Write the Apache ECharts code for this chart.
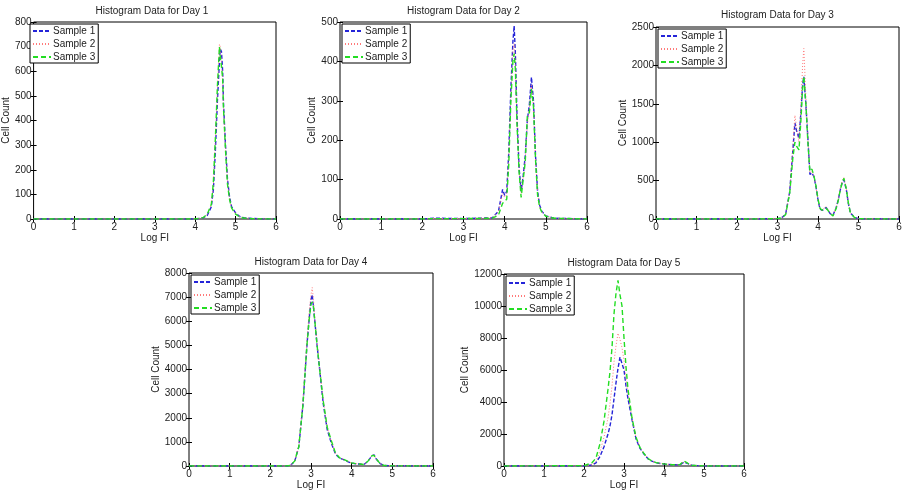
<!DOCTYPE html>
<html>
<head>
<meta charset="utf-8">
<title>Histogram Data</title>
<script src="https://cdn.jsdelivr.net/npm/echarts@6/dist/echarts.min.js"></script>
<style>
  html, body { margin: 0; padding: 0; background: #fff; }
  #chart { width: 913px; height: 494px; }
</style>
</head>
<body>
<div id="chart"></div>
<script>
const sampleNames = ['Sample 1', 'Sample 2', 'Sample 3']
const xTicks = [0, 1, 2, 3, 4, 5, 6]

// Day 1
const xDay1 = [0, 4.0, 4.2, 4.3, 4.4, 4.45, 4.5, 4.55, 4.6, 4.62, 4.65, 4.68, 4.7, 4.75, 4.8, 4.85, 4.9, 5.0, 5.1, 5.2, 5.4, 6]
const day1S1 = [0, 0, 5, 15, 50, 120, 280, 480, 640, 690, 680, 600, 470, 300, 160, 90, 50, 25, 10, 5, 2, 0]
const day1S2 = [0, 0, 5, 18, 60, 140, 320, 520, 710, 700, 640, 560, 450, 290, 150, 85, 45, 22, 10, 5, 2, 0]
const day1S3 = [0, 0, 6, 20, 60, 150, 330, 540, 700, 660, 620, 570, 450, 280, 140, 80, 45, 20, 8, 4, 1, 0]

// Day 2
const xDay2 = [0, 2, 2.3, 3.0, 3.7, 3.85, 3.95, 4.0, 4.05, 4.1, 4.15, 4.2, 4.23, 4.26, 4.3, 4.35, 4.4, 4.45, 4.5, 4.55, 4.6, 4.65, 4.7, 4.75, 4.8, 4.85, 4.9, 5.0, 5.2, 6]
const day2S1 = [0, 0, 2, 1, 3, 20, 75, 60, 70, 170, 330, 450, 490, 420, 260, 130, 70, 110, 160, 250, 290, 360, 300, 160, 70, 35, 20, 8, 2, 0]
const day2S2 = [0, 0, 1, 1, 3, 18, 65, 55, 60, 160, 310, 430, 445, 400, 250, 125, 65, 105, 150, 240, 280, 340, 290, 150, 65, 30, 18, 8, 2, 0]
const day2S3 = [0, 0, 1, 1, 2, 10, 40, 45, 50, 140, 300, 400, 420, 380, 240, 120, 55, 100, 145, 260, 270, 330, 285, 150, 60, 30, 18, 7, 2, 0]

// Day 3
const xDay3 = [0, 2.5, 3.0, 3.1, 3.2, 3.3, 3.38, 3.43, 3.47, 3.53, 3.58, 3.62, 3.65, 3.7, 3.75, 3.8, 3.85, 3.9, 3.95, 4.0, 4.05, 4.1, 4.15, 4.2, 4.25, 4.3, 4.37, 4.45, 4.5, 4.55, 4.6, 4.64, 4.7, 4.75, 4.8, 4.9, 5.0, 5.2, 6]
const day3S1 = [0, 0, 5, 15, 60, 350, 900, 1250, 1150, 1050, 1400, 1750, 1850, 1500, 1050, 580, 600, 550, 420, 250, 130, 110, 130, 150, 110, 70, 50, 150, 250, 380, 480, 510, 380, 200, 80, 20, 5, 2, 0]
const day3S2 = [0, 0, 5, 15, 60, 360, 950, 1350, 1200, 1000, 1500, 2000, 2220, 1600, 1050, 600, 620, 560, 420, 250, 130, 110, 140, 160, 120, 75, 50, 150, 260, 400, 500, 540, 400, 210, 85, 20, 5, 2, 0]
const day3S3 = [0, 0, 5, 15, 55, 330, 800, 1000, 950, 900, 1300, 1700, 1860, 1500, 1000, 620, 650, 560, 430, 260, 140, 115, 130, 140, 110, 70, 40, 140, 240, 380, 480, 530, 390, 210, 80, 20, 5, 2, 0]

// Day 4
const xDay4 = [0, 2.4, 2.5, 2.6, 2.7, 2.8, 2.9, 2.95, 3.0, 3.03, 3.06, 3.1, 3.15, 3.2, 3.3, 3.4, 3.5, 3.6, 3.7, 3.8, 3.9, 4.0, 4.1, 4.2, 4.3, 4.4, 4.5, 4.55, 4.6, 4.7, 4.8, 5.0, 6]
const day4S1 = [0, 0, 30, 200, 800, 2500, 5000, 6000, 6900, 7100, 6600, 5900, 5000, 4200, 2600, 1500, 950, 500, 330, 260, 180, 120, 90, 80, 60, 200, 430, 460, 300, 100, 20, 5, 0]
const day4S2 = [0, 0, 30, 220, 850, 2600, 5200, 6300, 7100, 7400, 6900, 6000, 5100, 4300, 2700, 1600, 1000, 520, 340, 270, 190, 130, 95, 80, 60, 200, 440, 450, 300, 100, 20, 5, 0]
const day4S3 = [0, 0, 30, 210, 800, 2500, 5000, 6000, 6700, 6800, 6600, 5900, 5000, 4200, 2700, 1600, 1050, 550, 340, 280, 200, 130, 100, 80, 60, 200, 430, 440, 300, 100, 20, 5, 0]

// Day 5
const xDay5 = [0, 2.0, 2.2, 2.3, 2.4, 2.5, 2.6, 2.65, 2.7, 2.75, 2.8, 2.85, 2.9, 2.95, 3.0, 3.05, 3.1, 3.2, 3.3, 3.4, 3.5, 3.6, 3.7, 3.8, 4.0, 4.2, 4.4, 4.5, 4.6, 4.7, 5.0, 6]
const day5S1 = [0, 0, 60, 200, 600, 1200, 2000, 2500, 3200, 4200, 5200, 6100, 6800, 6400, 6000, 5000, 4200, 2900, 1700, 1100, 750, 450, 300, 200, 120, 80, 80, 250, 150, 40, 5, 0]
const day5S2 = [0, 0, 80, 300, 900, 1800, 3000, 3900, 5000, 6500, 7500, 8300, 7900, 7400, 6600, 5500, 4500, 3000, 1800, 1150, 780, 470, 310, 210, 130, 80, 80, 280, 150, 40, 5, 0]
const day5S3 = [0, 20, 200, 500, 1400, 2800, 4800, 5900, 7400, 9500, 10800, 11600, 10700, 10000, 8000, 6200, 4800, 3000, 1800, 1150, 780, 470, 310, 210, 130, 80, 90, 320, 160, 40, 5, 0]

const yMax = [800, 500, 2500, 8000, 12000]
const yStep = [100, 100, 500, 1000, 2000]

const days = [
  { x: xDay1, s: [day1S1, day1S2, day1S3] },
  { x: xDay2, s: [day2S1, day2S2, day2S3] },
  { x: xDay3, s: [day3S1, day3S2, day3S3] },
  { x: xDay4, s: [day4S1, day4S2, day4S3] },
  { x: xDay5, s: [day5S1, day5S2, day5S3] }
]

// layout of each panel (pixels)
const panels = [
  { left: 28, top: 22, width: 248, height: 197, nameGap: 22, titleTop: 6 },
  { left: 340, top: 22, width: 247, height: 197, nameGap: 22, titleTop: 6 },
  { left: 656, top: 27, width: 243, height: 192, nameGap: 26, titleTop: 10 },
  { left: 189, top: 273, width: 244, height: 193, nameGap: 27, titleTop: 257 },
  { left: 504, top: 274, width: 240, height: 192, nameGap: 32, titleTop: 258 }
]

const font = 'Liberation Sans, Arial, Helvetica, sans-serif'
const styles = [
  { color: '#2424d8', type: [4, 2], width: 1.4 },
  { color: '#ff7a7a', type: [1, 2], width: 1 },
  { color: '#22dd22', type: [5, 3], width: 1.4 }
]

const chart = echarts.init(document.getElementById('chart'))

const grid = []
const xAxis = []
const yAxis = []
const series = []
const title = []
const legend = []

panels.forEach((p, i) => {
  grid.push({
    left: p.left, top: p.top, width: p.width, height: p.height,
    show: true, borderColor: '#000', borderWidth: 1, backgroundColor: '#fff'
  })
  title.push({
    text: 'Histogram Data for Day ' + (i + 1),
    left: p.left + p.width / 2,
    top: p.titleTop,
    padding: 0,
    textAlign: 'center',
    textStyle: { fontFamily: font, fontSize: 10, fontWeight: 'normal', color: '#222' }
  })
  // bottom x axis
  xAxis.push({
    type: 'value', gridIndex: i, min: 0, max: 6, interval: 1,
    name: 'Log FI', nameLocation: 'middle', nameGap: 13,
    nameTextStyle: { fontFamily: font, fontSize: 10, color: '#222' },
    axisLine: { show: false },
    axisTick: { inside: true, length: 3, lineStyle: { color: '#000' } },
    axisLabel: { fontFamily: font, fontSize: 10, color: '#222', margin: 3 },
    splitLine: { show: false }
  })
  // top x axis, ticks only
  xAxis.push({
    type: 'value', gridIndex: i, min: 0, max: 6, interval: 1, position: 'top',
    axisLine: { show: false },
    axisTick: { inside: true, length: 3, lineStyle: { color: '#000' } },
    axisLabel: { show: false },
    splitLine: { show: false }
  })
  yAxis.push({
    type: 'value', gridIndex: i, min: 0, max: yMax[i], interval: yStep[i],
    name: 'Cell Count', nameLocation: 'middle', nameGap: p.nameGap,
    nameTextStyle: { fontFamily: font, fontSize: 10, color: '#222' },
    axisLine: { show: false },
    axisTick: { inside: true, length: 3, lineStyle: { color: '#000' } },
    axisLabel: { fontFamily: font, fontSize: 10, color: '#222', margin: 2, formatter: v => String(v) },
    splitLine: { show: false }
  })
  yAxis.push({
    type: 'value', gridIndex: i, min: 0, max: yMax[i], interval: yStep[i], position: 'right',
    axisLine: { show: false },
    axisTick: { inside: true, length: 3, lineStyle: { color: '#000' } },
    axisLabel: { show: false },
    splitLine: { show: false }
  })
  legend.push({
    data: sampleNames,
    orient: 'vertical',
    left: p.left + 2,
    top: p.top + 2,
    itemWidth: 18,
    itemHeight: 8,
    itemGap: 3,
    padding: [2, 3, 1, 2],
    borderColor: '#000',
    borderWidth: 1,
    backgroundColor: '#fff',
    itemStyle: { opacity: 0 },
    textStyle: { fontFamily: font, fontSize: 10, color: '#222', padding: [0, 0, 0, -3] }
  })

  const day = days[i]
  day.s.forEach((vals, k) => {
    series.push({
      name: sampleNames[k],
      type: 'line',
      xAxisIndex: i * 2,
      yAxisIndex: i * 2,
      data: day.x.map((x, j) => [x, vals[j]]),
      showSymbol: false,
      symbol: 'none',
      silent: true,
      animation: false,
      lineStyle: styles[k],
      itemStyle: { color: styles[k].color },
      z: 2 + k
    })
  })
})

chart.setOption({
  animation: false,
  backgroundColor: '#fff',
  title, grid, xAxis, yAxis, legend, series
})
</script>
</body>
</html>
